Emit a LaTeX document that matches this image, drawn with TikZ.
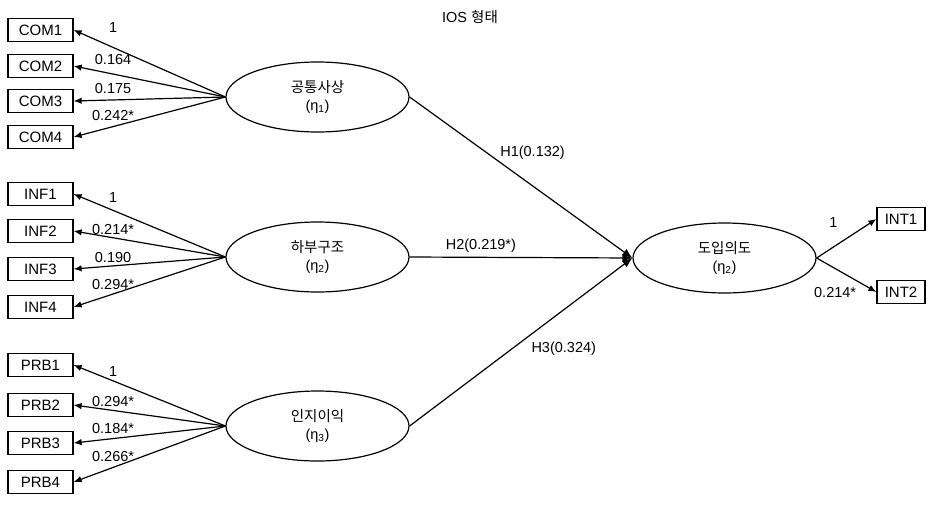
\documentclass[tikz,border=0pt]{standalone}
\usepackage{fontspec}
\setmainfont{Liberation Sans}
\newfontfamily\kr{Noto Sans CJK KR}
\usetikzlibrary{arrows.meta,positioning,shapes.geometric}
\tikzstyle{indbox} = [draw=black, line width=1.2pt, rectangle,
    minimum width=65pt, minimum height=23pt, inner sep=0pt, font=\fontsize{15}{16}\selectfont]
\tikzstyle{latent} = [draw=black, line width=1.2pt, ellipse,
    minimum width=183pt, minimum height=70pt, inner sep=0pt, align=center, font=\fontsize{14.5}{18}\selectfont]
\tikzstyle{load} = [line width=1.2pt, -{Latex[length=8pt,width=6.5pt]}]
\tikzstyle{hyp} = [line width=1.2pt, -{Latex[length=10pt,width=8pt]}]
\tikzstyle{lbl} = [inner sep=1pt, font=\fontsize{14.5}{16}\selectfont]

\begin{document}
\begin{tikzpicture}[x=1pt, y=-1pt]
\useasboundingbox (0,0) rectangle (929,506);
\node[lbl] (title) at (470,17) {IOS {\kr 형태}};

\node[latent] (lv1) at (317.5,97) {{\kr 공통사상}\\(η\textsubscript{1})};
\node[latent] (lv2) at (317.5,257) {{\kr 하부구조}\\(η\textsubscript{2})};
\node[latent] (lv3) at (317.5,426) {{\kr 인지이익}\\(η\textsubscript{3})};
\node[latent] (dv) at (724.5,258) {{\kr 도입의도}\\(η\textsubscript{2})};

\foreach \n/\y/\t/\r in {1/30/1/13, 2/66/0.164/8, 3/101/0.175/5, 4/137/0.242*/4.5} {
    \node[indbox] (com\n) at (40.5,\y) {COM\n};
    \draw[load] (lv1.west) -- (com\n.east) node[lbl, pos=0.74, above=\r pt] {\t};
}
\foreach \n/\y/\t/\r in {1/194/1/6, 2/231/0.214*/2, 3/269/0.190/2, 4/307/0.294*/3} {
    \node[indbox] (inf\n) at (40.5,\y) {INF\n};
    \draw[load] (lv2.west) -- (inf\n.east) node[lbl, pos=0.74, above=\r pt] {\t};
}
\foreach \n/\y/\t/\r in {1/365/1/3, 2/405/0.294*/2.5, 3/443/0.184*/3.5, 4/482/0.266*/4} {
    \node[indbox] (prb\n) at (40.5,\y) {PRB\n};
    \draw[load] (lv3.west) -- (prb\n.east) node[lbl, pos=0.74, above=\r pt] {\t};
}

\node[indbox, minimum width=48pt] (int1) at (901,219) {INT1};
\node[indbox, minimum width=48pt] (int2) at (901,292) {INT2};
\draw[load] (dv.east) -- (int1.west) node[lbl, pos=0.28, above=18pt] {1};
\draw[load] (dv.east) -- (int2.west) node[lbl, pos=0.31, below=17pt] {0.214*};

\draw[hyp] (lv1.east) -- (dv.west) node[lbl, pos=0.40, anchor=south west] {H1(0.132)};
\draw[hyp] (lv2.east) -- (dv.west) node[lbl, pos=0.32, above=3pt] {H2(0.219*)};
\draw[hyp] (lv3.east) -- (dv.west) node[lbl, pos=0.54, anchor=north west, yshift=-5pt] {H3(0.324)};
\end{tikzpicture}
\end{document}
